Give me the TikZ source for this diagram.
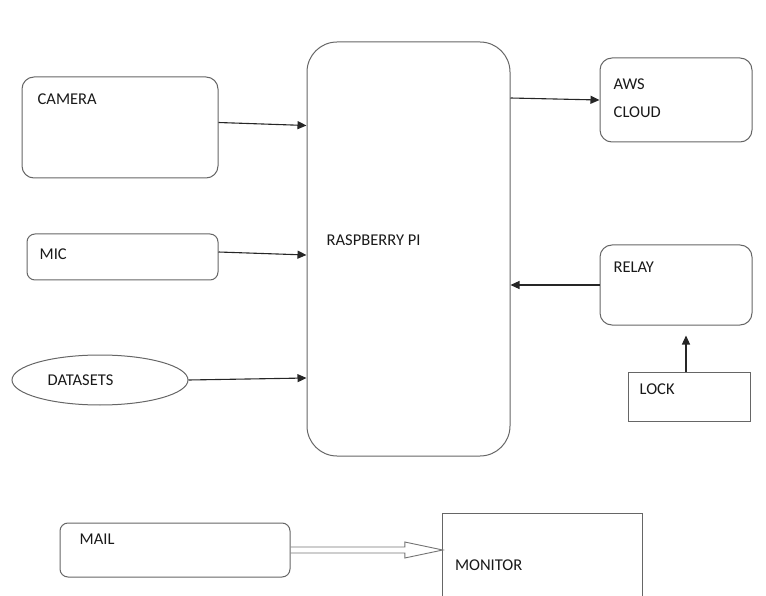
\documentclass[tikz,border=0pt]{standalone}
\usepackage{fontspec}
\setmainfont{Carlito}
\usetikzlibrary{shapes.geometric,arrows.meta,calc}

\begin{document}
\begin{tikzpicture}[x=1pt,y=-1pt,
  box/.style={draw=black!60,line width=1pt,rounded corners=#1},
  box/.default=10pt,
  lbl/.style={anchor=west,inner sep=0pt,text=black!90,font=\fontsize{16.5}{19}\selectfont},
  arr/.style={draw=black!85,line width=1.1pt,-{Triangle[length=9pt,width=8pt]}}]
\useasboundingbox (0,0) rectangle (766,596);

\node[box=12pt,minimum width=196,minimum height=101] (cam) at (120,127.5) {};
\node[box=8pt,minimum width=191,minimum height=46] (mic) at (122.5,257) {};
\node[draw=black!60,line width=1pt,ellipse,minimum width=176,minimum height=50] (data) at (100,380) {};
\node[box=30pt,minimum width=203,minimum height=414] (pi) at (408.5,249) {};
\node[box=12pt,minimum width=152,minimum height=84] (aws) at (676,100) {};
\node[box=12pt,minimum width=152,minimum height=80] (relay) at (676,285) {};
\node[box=0pt,minimum width=122,minimum height=49] (lock) at (689,396.5) {};
\node[box=8pt,minimum width=230,minimum height=54] (mail) at (175,550) {};
\node[minimum width=199,minimum height=90,inner sep=0pt] (mon) at (542.5,559) {};
\draw[black!60,line width=1pt] (mon.south west) -- (mon.north west) -- (mon.north east) -- (mon.south east);

\node[lbl] at ([shift={(16,23)}]cam.north west) {CAMERA};
\node[lbl] at ([shift={(13,21)}]mic.north west) {MIC};
\node[lbl] at ([shift={(36,0)}]data.west) {DATASETS};
\node[lbl] at ([shift={(20,-9)}]pi.west) {RASPBERRY PI};
\node[lbl] at ([shift={(14,27)}]aws.north west) {AWS};
\node[lbl] at ([shift={(14,55)}]aws.north west) {CLOUD};
\node[lbl] at ([shift={(14,23)}]relay.north west) {RELAY};
\node[lbl] at ([shift={(12,18)}]lock.north west) {LOCK};
\node[lbl] at ([shift={(20,17)}]mail.north west) {MAIL};
\node[lbl] at ([shift={(12,51)}]mon.north west) {MONITOR};

% inputs into the pi
\draw[arr] ($(cam.east)+(0,-5)$) -- ($(cam.east -| pi.west)+(0,-2)$);
\draw[arr] ($(mic.east)+(0,-5)$) -- ($(mic.east -| pi.west)+(0,-2)$);
\draw[arr] (data.east) -- ($(data.east -| pi.west)+(0,-2)$);
\draw[arr] ($(aws.west -| pi.east)+(0,-2)$) -- (aws.west);
\draw[arr] (relay.west) -- (relay.west -| pi.east);
\draw[arr] ($(lock.north)+(-3,0)$) -- ($(lock.north |- relay.south)+(-3,10)$);

% hollow arrow mail -> monitor
\coordinate (mtip) at (mail.east -| mon.west);
\draw[black!55,line width=0.9pt] ($(mail.east)+(0,-3)$) -- ($(mtip)+(-38,-3)$) -- ($(mtip)+(-38,-8)$)
  -- (mtip) -- ($(mtip)+(-38,8)$) -- ($(mtip)+(-38,3)$) -- ($(mail.east)+(0,3)$);
\end{tikzpicture}
\end{document}
